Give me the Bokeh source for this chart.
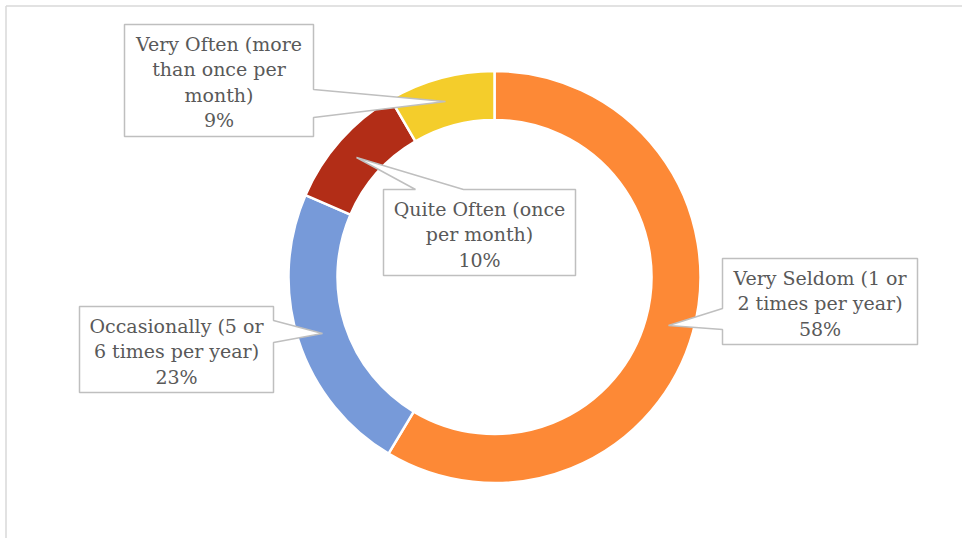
import math
from bokeh.plotting import figure
from bokeh.models import Range1d
from bokeh.core.properties import value
from bokeh.embed import file_html
from bokeh.resources import INLINE

# ---- data ----
categories = ["Very Seldom (1 or 2 times per year)",
              "Occasionally (5 or 6 times per year)",
              "Quite Often (once per month)",
              "Very Often (more than once per month)"]
label_lines = [["Very Seldom (1 or", "2 times per year)"],
               ["Occasionally (5 or", "6 times per year)"],
               ["Quite Often (once", "per month)"],
               ["Very Often (more", "than once per", "month)"]]
# shares as drawn by the ring (read from the slice boundaries)
shares = [58.6, 22.9, 10.1, 8.4]
# percentages printed in the data labels
pct_labels = ["58%", "23%", "10%", "9%"]
colors = ["#FD8936", "#779AD9", "#B22D17", "#F4CD2B"]

# ---- layout (pixels within the figure) ----
W, H = 962, 538
CX, CY = 494, 276.5
R_OUT, R_IN = 206, 157
# callout boxes: (left, top, right, bottom)
boxes = [(722, 258, 917, 344), (79, 306, 273, 392), (383, 189, 575, 275), (124, 24, 313, 136)]
# pointer: side, base a, base b, tip (x, y)
pointers = [("left", 308, 329, (668, 325)),
            ("right", 320, 342, (322, 333)),
            ("top", 415, 463, (356, 157)),
            ("right", 89, 117, (445, 101))]


def X(px):
    return px


def Y(py):
    return H - py


p = figure(width=W, height=H, x_range=Range1d(0, W), y_range=Range1d(0, H),
           toolbar_location=None, output_backend="svg", min_border=0)
p.axis.visible = False
p.grid.visible = False
p.outline_line_color = None
p.background_fill_color = "white"

# chart border (left and top visible)
p.segment(x0=[X(5.5), X(5.5)], y0=[0, Y(5.5)], x1=[X(5.5), W], y1=[Y(5.5), Y(5.5)],
          line_color="#D9D9D9", line_width=1.5)

# donut slices, clockwise from 12 o'clock
total = sum(shares)
start = math.pi / 2
starts, ends = [], []
for v in shares:
    end = start - 2 * math.pi * v / total
    starts.append(start)
    ends.append(end)
    start = end

p.annular_wedge(x=[X(CX)] * len(shares), y=[Y(CY)] * len(shares),
                inner_radius=R_IN, outer_radius=R_OUT,
                start_angle=starts, end_angle=ends, direction="clock",
                fill_color=colors, line_color="white", line_width=2.5)

# callouts
for (l, t, r, b), (side, a, bb, (tx, ty)) in zip(boxes, pointers):
    if side == "right":
        pts = [(l, t), (r, t), (r, a), (tx, ty), (r, bb), (r, b), (l, b)]
    elif side == "left":
        pts = [(l, t), (r, t), (r, b), (l, b), (l, bb), (tx, ty), (l, a)]
    else:  # top
        pts = [(l, t), (a, t), (tx, ty), (bb, t), (r, t), (r, b), (l, b)]
    p.patch([X(q[0]) for q in pts], [Y(q[1]) for q in pts],
            fill_color="white", line_color="#BFBFBF", line_width=1.5)

LH = 25.5
for (l, t, r, b), lines, pl in zip(boxes, label_lines, pct_labels):
    all_lines = lines + [pl]
    cx = (l + r) / 2
    cy = (t + b) / 2 + 1.5
    n = len(all_lines)
    ys = [cy + (i - (n - 1) / 2) * LH for i in range(n)]
    p.text(x=[X(cx)] * n, y=[Y(y) for y in ys], text=all_lines,
           text_font=value("DejaVu Serif"), text_font_size="19px",
           text_color="#595959", text_align="center", text_baseline="middle")

open("out.html", "w").write(file_html(p, INLINE))
